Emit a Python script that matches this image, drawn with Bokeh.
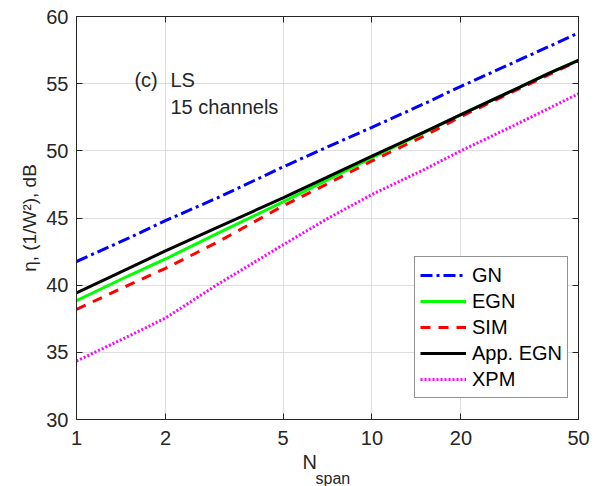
from bokeh.plotting import figure
from bokeh.models import (FixedTicker, LinearAxis, LogAxis, Legend, LegendItem,
                          Label, Range1d, BasicTickFormatter, ColumnDataSource, Title)
from bokeh.embed import file_html
from bokeh.resources import INLINE

# ---- data ----
n_span = [1, 1.5, 2, 3, 5, 7, 10, 15, 20, 30, 40, 50]
gn =      [41.76, 43.5, 44.8, 46.5, 48.8, 50.25, 51.75, 53.5, 54.8, 56.55, 57.8, 58.78]
egn =     [38.85, 40.7, 41.95, 43.85, 46.2, 47.8, 49.5, 51.35, 52.7, 54.5, 55.8, 56.75]
sim =     [38.2, 40.0, 41.25, 43.2, 45.9, 47.5, 49.25, 51.1, 52.55, 54.4, 55.7, 56.7]
app_egn = [39.43, 41.25, 42.55, 44.3, 46.5, 48.0, 49.6, 51.4, 52.7, 54.5, 55.8, 56.73]
xpm =     [34.35, 36.2, 37.55, 40.05, 43.0, 44.9, 46.75, 48.6, 50.0, 51.85, 53.2, 54.25]

x_ticks = [1, 2, 5, 10, 20, 50]
y_ticks = [30, 35, 40, 45, 50, 55, 60]
series_names = ["GN", "EGN", "SIM", "App. EGN", "XPM"]

FONT = "Liberation Sans"
AX = "#262626"

p = figure(width=602, height=486, x_axis_type="log",
           x_range=Range1d(1, 50), y_range=Range1d(30, 60),
           output_backend="svg", toolbar_location=None,
           min_border_left=76, min_border_right=24,
           min_border_top=16, min_border_bottom=67)

p.background_fill_color = "white"
p.border_fill_color = "white"
p.outline_line_color = AX
p.outline_line_width = 1

def style_axis(ax, show_labels=True):
    ax.axis_line_color = AX
    ax.major_tick_line_color = AX
    ax.major_tick_in = 6
    ax.major_tick_out = 0
    ax.minor_tick_line_color = None
    ax.major_label_text_font = FONT
    if show_labels:
        ax.major_label_text_color = AX
        ax.major_label_text_font_size = "20px"
    else:
        ax.major_label_text_color = None
        ax.major_label_text_font_size = "1px"
        ax.major_label_standoff = 0

xa = p.xaxis[0]
xa.ticker = FixedTicker(ticks=x_ticks)
xa.formatter = BasicTickFormatter()
style_axis(xa)
xa.major_label_standoff = 11
ya = p.yaxis[0]
ya.ticker = FixedTicker(ticks=y_ticks)
style_axis(ya)
ya.major_label_standoff = 8
ya.axis_label = "η, (1/W²), dB"
ya.axis_label_text_font = FONT
ya.axis_label_text_font_style = "normal"
ya.axis_label_text_font_size = "19px"
ya.axis_label_text_color = AX
ya.axis_label_standoff = 3

top = LogAxis(ticker=FixedTicker(ticks=x_ticks), formatter=BasicTickFormatter())
style_axis(top, False)
p.add_layout(top, "above")
right = LinearAxis(ticker=FixedTicker(ticks=y_ticks))
style_axis(right, False)
p.add_layout(right, "right")

p.xgrid.ticker = FixedTicker(ticks=x_ticks)
p.ygrid.ticker = FixedTicker(ticks=y_ticks)
p.xgrid.grid_line_color = "#dedede"
p.ygrid.grid_line_color = "#dedede"
p.xgrid.minor_grid_line_color = None

src = ColumnDataSource(dict(x=n_span, gn=gn, egn=egn, sim=sim, app=app_egn, xpm=xpm))

r_gn = p.line("x", "gn", source=src, line_color="#0000ff", line_width=3, line_dash="12 4 3 4")
r_egn = p.line("x", "egn", source=src, line_color="#00ff00", line_width=3)
r_sim = p.line("x", "sim", source=src, line_color="#ff0000", line_width=3, line_dash="10 8")
r_app = p.line("x", "app", source=src, line_color="#000000", line_width=3)
r_xpm = p.line("x", "xpm", source=src, line_color="#ff00ff", line_width=3, line_dash="2 2")

legend = Legend(items=[LegendItem(label=n, renderers=[r]) for n, r in
                       zip(series_names, [r_gn, r_egn, r_sim, r_app, r_xpm])],
                location=(338, 21))
legend.label_text_font = FONT
legend.label_text_font_size = "20px"
legend.label_text_color = "#000000"
legend.border_line_color = AX
legend.border_line_width = 1
legend.background_fill_color = "white"
legend.background_fill_alpha = 1
legend.padding = 5
legend.spacing = 0
legend.glyph_width = 46
legend.glyph_height = 26
legend.label_height = 26
legend.label_standoff = 6
legend.margin = 0
p.add_layout(legend)

# annotations
for txt, x, y in [("(c)", 1.57, 55.24), ("LS", 2.08, 55.24), ("15 channels", 2.08, 53.23)]:
    p.add_layout(Label(x=x, y=y, text=txt, text_font=FONT, text_font_size="20px",
                       text_color=AX, text_baseline="alphabetic"))

# x axis label "N_span" (N with subscript)
t_n = Title(text="N", align="left", offset=226, text_font=FONT, text_font_size="20px",
            text_font_style="normal", text_color=AX, standoff=3)
t_sub = Title(text="span", align="left", offset=239, text_font=FONT, text_font_size="16px",
              text_font_style="normal", text_color=AX, standoff=-13)
p.add_layout(t_n, "below")
p.add_layout(t_sub, "below")

open("out.html", "w").write(file_html(p, INLINE))
